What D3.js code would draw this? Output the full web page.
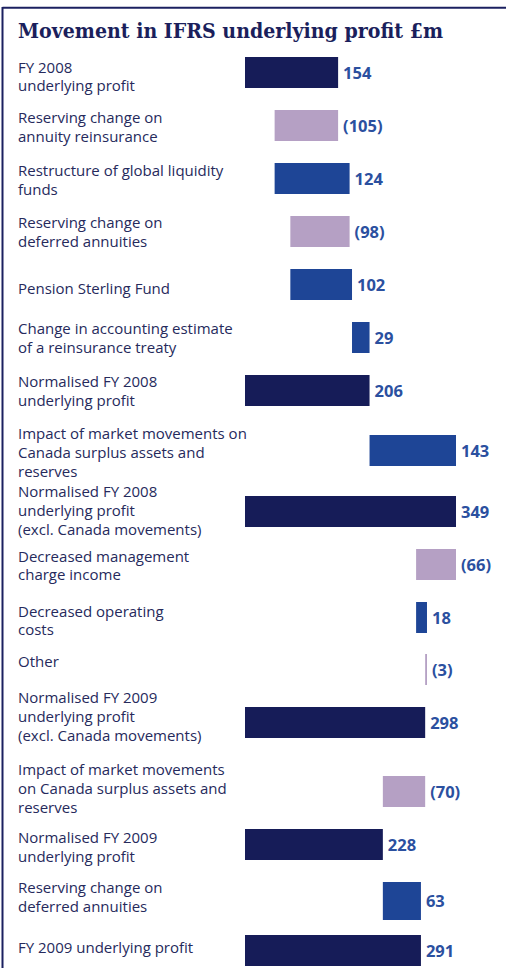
<!DOCTYPE html>
<html>
<head>
<meta charset="utf-8">
<script src="https://cdn.jsdelivr.net/npm/d3@7"></script>
<style>
  html, body { margin: 0; padding: 0; background: #ffffff; }
  svg { display: block; }
</style>
</head>
<body>
<svg id="chart" width="506" height="968"></svg>
<script>
// ---------- DATA ----------
const categories = [
  "FY 2008\nunderlying profit",
  "Reserving change on\nannuity reinsurance",
  "Restructure of global liquidity\nfunds",
  "Reserving change on\ndeferred annuities",
  "Pension Sterling Fund",
  "Change in accounting estimate\nof a reinsurance treaty",
  "Normalised FY 2008\nunderlying profit",
  "Impact of market movements on\nCanada surplus assets and\nreserves",
  "Normalised FY 2008\nunderlying profit\n(excl. Canada movements)",
  "Decreased management\ncharge income",
  "Decreased operating\ncosts",
  "Other",
  "Normalised FY 2009\nunderlying profit\n(excl. Canada movements)",
  "Impact of market movements\non Canada surplus assets and\nreserves",
  "Normalised FY 2009\nunderlying profit",
  "Reserving change on\ndeferred annuities",
  "FY 2009 underlying profit"
];
const values = [154, -105, 124, -98, 102, 29, 206, 143, 349, -66, 18, -3, 298, -70, 228, 63, 291];
const kinds = ["total", "delta", "delta", "delta", "delta", "delta", "total", "delta", "total",
               "delta", "delta", "delta", "total", "delta", "total", "delta", "total"];
const valueLabels = ["154", "(105)", "124", "(98)", "102", "29", "206", "143", "349",
                     "(66)", "18", "(3)", "298", "(70)", "228", "63", "291"];
const xDomain = [0, 350];

// ---------- LAYOUT (not data) ----------
const W = 506, H = 968;
const colors = { total: "#161c58", up: "#1e4596", down: "#b5a0c4" };
const labelColor = "#262a5c";
const valueColor = "#2b509f";
const rowGaps = [53, 53, 53, 53, 53, 53, 60, 61, 53, 53, 52, 53, 69, 53, 53, 53];
const firstTop = 57;
const barH = 31;
const labelBaseline = [15.5, 12.7, 13, 12, 25, 12, 12, 4, 1, 12.5, 14.5, 13, -4, -1, 13.7, 10.7, 18];
const barHOverride = {15: 38};
const lineH = 18.9;

// compute waterfall extents
let running = 0;
const rows = values.map((v, i) => {
  let x0, x1;
  if (kinds[i] === "total") { x0 = 0; x1 = v; running = v; }
  else if (v >= 0) { x0 = running; x1 = running + v; running += v; }
  else { x0 = running + v; x1 = running; running += v; }
  return { i, cat: categories[i], v, kind: kinds[i], x0, x1, label: valueLabels[i] };
});

const tops = [firstTop];
rowGaps.forEach((g, k) => tops.push(tops[k] + g));
const y = d3.scaleOrdinal().domain(d3.range(rows.length)).range(tops);

const x = d3.scaleLinear().domain(xDomain).range([245, 245 + 350 * 0.6046]);

const svg = d3.select("#chart");

// frame: top and left rules
svg.append("line").attr("x1", 2.5).attr("x2", W).attr("y1", 7.8).attr("y2", 7.8)
  .attr("stroke", "#1b2060").attr("stroke-width", 2);
svg.append("line").attr("x1", 2.5).attr("x2", 2.5).attr("y1", 7).attr("y2", H)
  .attr("stroke", "#1b2060").attr("stroke-width", 2);

// title
svg.append("text")
  .attr("x", 18).attr("y", 38)
  .attr("font-family", "'DejaVu Serif', 'Liberation Serif', serif")
  .attr("font-weight", "bold")
  .attr("font-size", 19.5)
  .attr("textLength", 425)
  .attr("lengthAdjust", "spacingAndGlyphs")
  .attr("fill", "#1b1f5c")
  .text("Movement in IFRS underlying profit £m");

const g = svg.append("g");

// bars
g.selectAll("rect.bar").data(rows).join("rect")
  .attr("class", "bar")
  .attr("x", d => x(d.x0))
  .attr("y", d => y(d.i))
  .attr("width", d => Math.max(1.5, x(d.x1) - x(d.x0)))
  .attr("height", d => barHOverride[d.i] || barH)
  .attr("fill", d => d.kind === "total" ? colors.total : (d.v >= 0 ? colors.up : colors.down));

// value labels
g.selectAll("text.val").data(rows).join("text")
  .attr("class", "val")
  .attr("x", d => x(d.x1) + 5)
  .attr("y", d => y(d.i) + (barHOverride[d.i] || barH) / 2 + 6)
  .attr("font-family", "'Open Sans', 'Noto Sans', sans-serif")
  .attr("font-weight", "bold")
  .attr("font-size", 16.5)
  .attr("fill", valueColor)
  .text(d => d.label);

// category labels
const lbl = g.selectAll("text.cat").data(rows).join("text")
  .attr("class", "cat")
  .attr("x", 18)
  .attr("y", d => y(d.i) + labelBaseline[d.i])
  .attr("font-family", "'Open Sans', 'Noto Sans', sans-serif")
  .attr("font-size", 15)
  .attr("fill", labelColor);
lbl.selectAll("tspan").data(d => d.cat.split("\n")).join("tspan")
  .attr("x", 18)
  .attr("dy", (d, k) => k === 0 ? 0 : lineH)
  .text(d => d);
</script>
</body>
</html>
